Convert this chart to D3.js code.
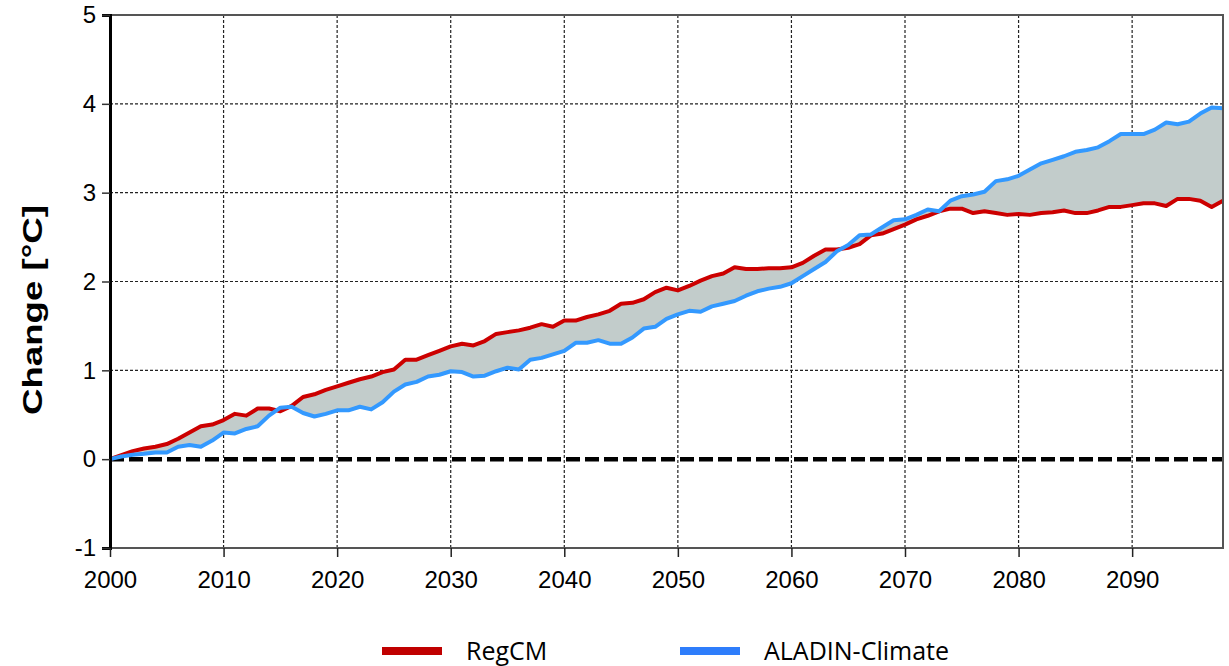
<!DOCTYPE html>
<meta charset="utf-8">
<style>
  body { margin: 0; background: #fff; }
  text { font-family: "Liberation Sans", Arial, sans-serif; }
</style>
<body>
<script src="https://d3js.org/d3.v7.min.js"></script>
<script>
  // yearly change in temperature, 2000-2098
  const years = d3.range(2000, 2099);
  const regcm = [
    0, 0.045, 0.09, 0.12, 0.14, 0.17, 0.23, 0.30, 0.37, 0.39,
    0.44, 0.51, 0.49, 0.57, 0.57, 0.54, 0.60, 0.70, 0.73, 0.78,
    0.82, 0.86, 0.90, 0.93, 0.98, 1.01, 1.12, 1.12, 1.17, 1.22,
    1.27, 1.30, 1.28, 1.33, 1.41, 1.43, 1.45, 1.48, 1.52, 1.49,
    1.56, 1.56, 1.60, 1.63, 1.67, 1.75, 1.76, 1.80, 1.88, 1.93,
    1.90, 1.95, 2.01, 2.06, 2.09, 2.16, 2.14, 2.14, 2.15, 2.15,
    2.16, 2.21, 2.29, 2.36, 2.36, 2.38, 2.42, 2.52, 2.54, 2.59,
    2.64, 2.70, 2.74, 2.79, 2.82, 2.82, 2.77, 2.79, 2.77, 2.75,
    2.76, 2.75, 2.77, 2.78, 2.80, 2.77, 2.77, 2.80, 2.84, 2.84,
    2.86, 2.88, 2.88, 2.85, 2.93, 2.93, 2.91, 2.84, 2.91
  ];
  const aladin = [
    0, 0.03, 0.05, 0.06, 0.075, 0.075, 0.14, 0.16, 0.14, 0.21,
    0.30, 0.29, 0.34, 0.37, 0.49, 0.58, 0.59, 0.52, 0.48, 0.51,
    0.55, 0.55, 0.59, 0.56, 0.64, 0.76, 0.84, 0.87, 0.93, 0.95,
    0.99, 0.98, 0.93, 0.94, 0.99, 1.03, 1.01, 1.12, 1.14, 1.18,
    1.22, 1.31, 1.31, 1.34, 1.30, 1.30, 1.37, 1.47, 1.49, 1.58,
    1.63, 1.67, 1.66, 1.72, 1.75, 1.78, 1.84, 1.89, 1.92, 1.94,
    1.98, 2.06, 2.14, 2.22, 2.34, 2.41, 2.52, 2.53, 2.61, 2.69,
    2.70, 2.75, 2.81, 2.79, 2.91, 2.96, 2.98, 3.01, 3.13, 3.15,
    3.19, 3.26, 3.33, 3.37, 3.41, 3.46, 3.48, 3.51, 3.58, 3.66,
    3.66, 3.66, 3.71, 3.79, 3.77, 3.80, 3.89, 3.96, 3.95
  ];
  const xTicks = [2000, 2010, 2020, 2030, 2040, 2050, 2060, 2070, 2080, 2090];
  const yTicks = [-1, 0, 1, 2, 3, 4, 5];
  const seriesNames = ["RegCM", "ALADIN-Climate"];
  const seriesColors = ["#cc0000", "#3399ff"];
  const legendColors = ["#c00000", "#2e7dfb"];

  const W = 1229, H = 666;
  const margin = {top: 15, right: 6, bottom: 118, left: 110};
  const width = W - margin.left - margin.right;
  const height = H - margin.top - margin.bottom;

  const svg = d3.select("body").append("svg")
    .attr("width", W).attr("height", H);
  const g = svg.append("g")
    .attr("transform", `translate(${margin.left},${margin.top})`);

  const x = d3.scaleLinear().domain([2000, 2098]).range([0, width]);
  const y = d3.scaleLinear().domain([-1, 5]).range([height, 0]);

  const data = years.map((yr, i) => ({yr: yr, r: regcm[i], a: aladin[i]}));

  // grid
  g.append("g").selectAll("line")
    .data(xTicks.slice(1))
    .join("line")
    .attr("x1", d => x(d)).attr("x2", d => x(d))
    .attr("y1", 0).attr("y2", height)
    .attr("stroke", "#222").attr("stroke-width", 1.2)
    .attr("stroke-dasharray", "3,2");
  g.append("g").selectAll("line")
    .data([1, 2, 3, 4])
    .join("line")
    .attr("x1", 0).attr("x2", width)
    .attr("y1", d => y(d)).attr("y2", d => y(d))
    .attr("stroke", "#222").attr("stroke-width", 1.2)
    .attr("stroke-dasharray", "3,2");

  // band between the two models
  const area = d3.area()
    .x(d => x(d.yr))
    .y0(d => y(d.r))
    .y1(d => y(d.a));
  g.append("path").datum(data)
    .attr("d", area)
    .attr("fill", "#c2cccb");

  // zero line
  g.append("line")
    .attr("x1", 0).attr("x2", width)
    .attr("y1", y(0)).attr("y2", y(0))
    .attr("stroke", "#000").attr("stroke-width", 4.5)
    .attr("stroke-dasharray", "14,5");

  const line = d3.line().x(d => x(d[0])).y(d => y(d[1]));
  g.append("path")
    .datum(years.map((yr, i) => [yr, regcm[i]]))
    .attr("d", line)
    .attr("fill", "none").attr("stroke", seriesColors[0])
    .attr("stroke-width", 4).attr("stroke-linejoin", "round");
  g.append("path")
    .datum(years.map((yr, i) => [yr, aladin[i]]))
    .attr("d", line)
    .attr("fill", "none").attr("stroke", seriesColors[1])
    .attr("stroke-width", 4).attr("stroke-linejoin", "round");

  // frame
  g.append("rect")
    .attr("x", 0).attr("y", 0).attr("width", width).attr("height", height)
    .attr("fill", "none").attr("stroke", "#555").attr("stroke-width", 2);

  // axes
  const yAxis = g.append("g")
    .call(d3.axisLeft(y).tickValues(yTicks).tickSize(8).tickPadding(6).tickFormat(d => String(d)));
  yAxis.select(".domain").attr("stroke", "#000").attr("stroke-width", 3);
  yAxis.selectAll(".tick line").attr("stroke", "#333").attr("stroke-width", 1.5);
  yAxis.selectAll("text").attr("font-size", 24).attr("fill", "#000")
    .style("font-family", "'Liberation Sans', Arial, sans-serif");

  const xAxis = g.append("g")
    .attr("transform", `translate(0,${height})`)
    .call(d3.axisBottom(x).tickValues(xTicks).tickSize(9).tickPadding(14).tickFormat(d => String(d)));
  xAxis.select(".domain").remove();
  xAxis.selectAll(".tick line").attr("stroke", "#222").attr("stroke-width", 1.5);
  xAxis.selectAll("text").attr("font-size", 24).attr("fill", "#000")
    .style("font-family", "'Liberation Sans', Arial, sans-serif");

  // y label
  svg.append("text")
    .attr("transform", `translate(42,${310}) rotate(-90)`)
    .attr("text-anchor", "middle")
    .attr("font-size", 28).attr("font-weight", "bold")
    .attr("textLength", 210).attr("lengthAdjust", "spacingAndGlyphs")
    .text("Change [°C]");

  // legend
  const legendX = [382, 680];
  const leg = svg.append("g").selectAll("g")
    .data(seriesNames)
    .join("g")
    .attr("transform", (d, i) => `translate(${legendX[i]},651)`);
  leg.append("line")
    .attr("x1", 0).attr("x2", 60)
    .attr("stroke", (d, i) => legendColors[i]).attr("stroke-width", 8);
  leg.append("text")
    .attr("x", 84).attr("dy", "0.35em")
    .attr("font-size", 25)
    .style("font-family", "'Open Sans', 'Noto Sans', sans-serif")
    .text(d => d);
</script>
</body>
